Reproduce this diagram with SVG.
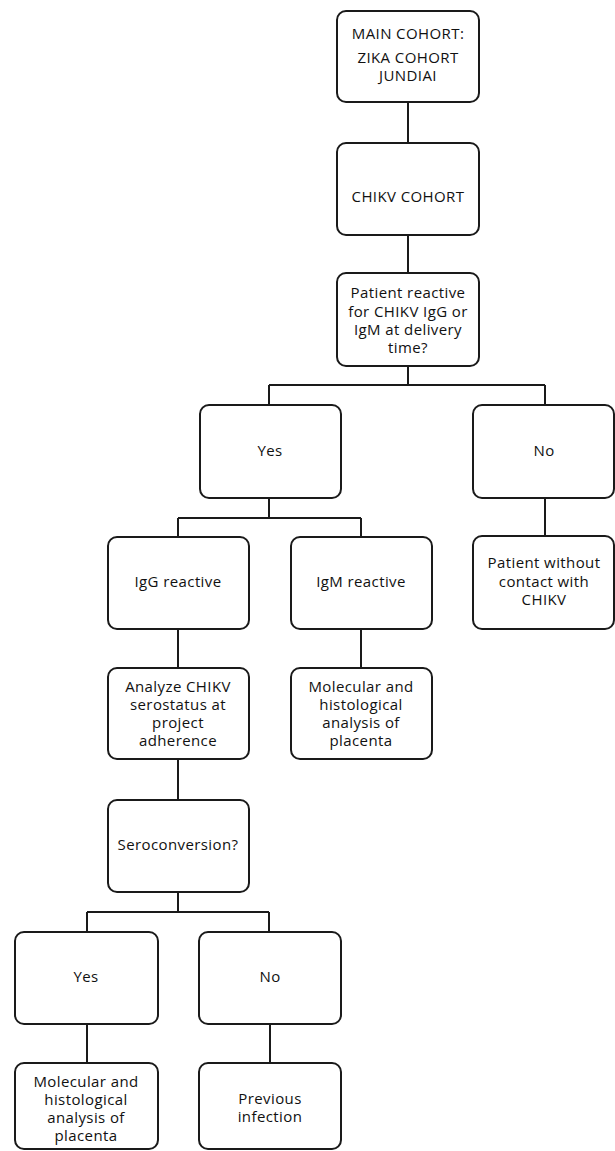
<svg xmlns="http://www.w3.org/2000/svg" width="615" height="1151" viewBox="0 0 615 1151">
<style>
.box{fill:#fff;stroke:#1a1a1a;stroke-width:2}
.ln{fill:none;stroke:#1a1a1a;stroke-width:2}
text{font-family:"Open Sans","Liberation Sans",sans-serif;font-size:15px;font-weight:500;letter-spacing:0.4px;fill:#111;text-anchor:middle}
</style>
<rect width="615" height="1151" fill="#fff"/>
<g id="connectors">
<path class="ln" d="M408 102V143M408 235V273M408 366V385M269 385H545M269 385V405M545 385V405"/>
<path class="ln" d="M269 498V518M178 518H361M178 518V537M361 518V537M545 498V536"/>
<path class="ln" d="M178 629V668M361 629V668M178 759V800M178 892V912M87 912H269M87 912V932M269 912V932"/>
<path class="ln" d="M87 1024V1063M270 1024V1063"/>
</g>
<g id="main"><rect class="box" x="337" y="11" width="142" height="91" rx="9"/><text x="408" y="39">MAIN COHORT:</text><text x="408" y="63">ZIKA COHORT</text><text x="408" y="81">JUNDIAI</text></g>
<g id="chikv"><rect class="box" x="337" y="143" width="142" height="92" rx="9"/><text x="408" y="202">CHIKV COHORT</text></g>
<g id="reactive"><rect class="box" x="337" y="273" width="142" height="93" rx="9"/><text x="408" y="298">Patient reactive</text><text x="408" y="317">for CHIKV IgG or</text><text x="408" y="335">IgM at delivery</text><text x="408" y="353">time?</text></g>
<g id="yes1"><rect class="box" x="200" y="405" width="141" height="93" rx="9"/><text x="270" y="456">Yes</text></g>
<g id="no1"><rect class="box" x="473" y="405" width="141" height="93" rx="9"/><text x="544" y="456">No</text></g>
<g id="igg"><rect class="box" x="108" y="537" width="141" height="92" rx="9"/><text x="178" y="587">IgG reactive</text></g>
<g id="igm"><rect class="box" x="291" y="537" width="141" height="92" rx="9"/><text x="361" y="587">IgM reactive</text></g>
<g id="nocontact"><rect class="box" x="473" y="536" width="141" height="93" rx="9"/><text x="544" y="568">Patient without</text><text x="544" y="587">contact with</text><text x="544" y="605">CHIKV</text></g>
<g id="analyze"><rect class="box" x="108" y="668" width="141" height="91" rx="9"/><text x="178" y="692">Analyze CHIKV</text><text x="178" y="710">serostatus at</text><text x="178" y="728">project</text><text x="178" y="746">adherence</text></g>
<g id="molecular1"><rect class="box" x="291" y="668" width="141" height="91" rx="9"/><text x="361" y="692">Molecular and</text><text x="361" y="710">histological</text><text x="361" y="728">analysis of</text><text x="361" y="746">placenta</text></g>
<g id="seroconv"><rect class="box" x="108" y="800" width="141" height="92" rx="9"/><text x="178" y="850">Seroconversion?</text></g>
<g id="yes2"><rect class="box" x="15" y="932" width="143" height="92" rx="9"/><text x="86" y="982">Yes</text></g>
<g id="no2"><rect class="box" x="199" y="932" width="142" height="92" rx="9"/><text x="270" y="982">No</text></g>
<g id="molecular2"><rect class="box" x="15" y="1063" width="143" height="86" rx="9"/><text x="86" y="1087">Molecular and</text><text x="86" y="1105">histological</text><text x="86" y="1123">analysis of</text><text x="86" y="1141">placenta</text></g>
<g id="previous"><rect class="box" x="199" y="1063" width="142" height="86" rx="9"/><text x="270" y="1104">Previous</text><text x="270" y="1122">infection</text></g>
</svg>
